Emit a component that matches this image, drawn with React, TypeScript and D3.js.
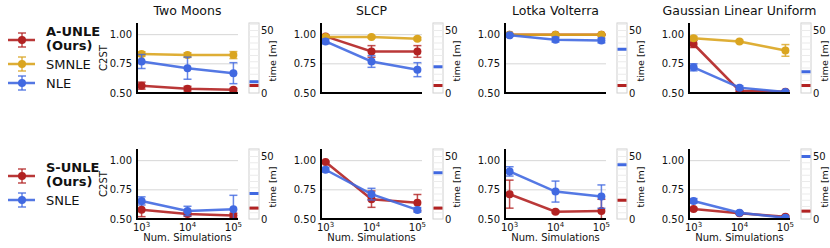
import { useEffect, useRef } from "react"
import * as d3 from "d3"

const WIDTH = 830
const HEIGHT = 248

const tasks = ["Two Moons", "SLCP", "Lotka Volterra", "Gaussian Linear Uniform"]
const numSims = [1e3, 1e4, 1e5]
const yTicks = [0.5, 0.75, 1.0]
const timeTicks = [0, 50]
const timeGrid = [5, 10, 15, 20, 25, 30, 35, 40, 45, 50, 55]

// amortized row: one list per task, values at 1e3, 1e4, 1e5 simulations
const aUnleC2st = [[0.563, 0.537, 0.528], [0.985, 0.856, 0.856], [1.0, 1.0, 1.0], [0.92, 0.52, 0.511]]
const aUnleErr = [[0.03, 0.02, 0.012], [0.01, 0.05, 0.05], [0.005, 0.005, 0.005], [0.03, 0.012, 0.01]]
const aUnleTime = [6, 6, 6, 6]
const smnleC2st = [[0.834, 0.825, 0.825], [0.98, 0.98, 0.965], [1.0, 1.0, 1.0], [0.97, 0.942, 0.865]]
const smnleErr = [[0.02, 0.02, 0.03], [0.01, 0.01, 0.012], [0.005, 0.005, 0.005], [0.015, 0.01, 0.05]]
const nleC2st = [[0.77, 0.713, 0.67], [0.942, 0.77, 0.7], [0.995, 0.957, 0.95], [0.72, 0.546, 0.508]]
const nleErr = [[0.06, 0.095, 0.09], [0.02, 0.05, 0.06], [0.01, 0.02, 0.02], [0.03, 0.015, 0.01]]
const nleTime = [9, 21, 35, 17]

// sequential row
const sUnleC2st = [[0.58, 0.543, 0.529], [0.989, 0.67, 0.64], [0.713, 0.563, 0.569], [0.586, 0.55, 0.52]]
const sUnleErr = [[0.06, 0.02, 0.02], [0.005, 0.07, 0.07], [0.12, 0.01, 0.1], [0.012, 0.01, 0.01]]
const sUnleTime = [8.7, 8.7, 15, 6.3]
const snleC2st = [[0.655, 0.569, 0.583], [0.922, 0.713, 0.578], [0.908, 0.735, 0.692], [0.655, 0.554, 0.511]]
const snleErr = [[0.035, 0.04, 0.12], [0.02, 0.05, 0.02], [0.04, 0.09, 0.1], [0.02, 0.01, 0.01]]
const snleTime = [20.4, 37, 43.4, 50]

const RED = "#b22222"
const GOLD = "#daa520"
const BLUE = "#4169e1"

interface Series {
  label: string[]
  bold?: boolean
  color: string
  c2st: number[][]
  err: number[][]
  time?: number[]
}

const rows: { top: number; legendY: number; series: Series[] }[] = [
  {
    top: 23,
    legendY: 40,
    series: [
      { label: ["A-UNLE", "(Ours)"], bold: true, color: RED, c2st: aUnleC2st, err: aUnleErr, time: aUnleTime },
      { label: ["SMNLE"], color: GOLD, c2st: smnleC2st, err: smnleErr },
      { label: ["NLE"], color: BLUE, c2st: nleC2st, err: nleErr, time: nleTime },
    ],
  },
  {
    top: 149,
    legendY: 176,
    series: [
      { label: ["S-UNLE", "(Ours)"], bold: true, color: RED, c2st: sUnleC2st, err: sUnleErr, time: sUnleTime },
      { label: ["SNLE"], color: BLUE, c2st: snleC2st, err: snleErr, time: snleTime },
    ],
  },
]

export default function App() {
  const svgRef = useRef<SVGSVGElement>(null)

  useEffect(() => {
    const svg = d3.select(svgRef.current)
    svg.selectAll("*").remove()

    const panelLeft = 137
    const panelStep = 184
    const w = 101
    const h = 70

    const x = d3.scaleLog().domain([10 ** 2.9, 10 ** 5.1]).range([0, w])
    const y = d3.scaleLinear().domain([0.5, 1.1]).range([h, 0])
    const yTime = d3.scaleLinear().domain([0, 56]).range([h, 0])

    const line = d3
      .line<[number, number]>()
      .x((d) => x(d[0]))
      .y((d) => y(d[1]))

    // titles
    tasks.forEach((t, i) => {
      svg
        .append("text")
        .attr("x", panelLeft + i * panelStep + w / 2)
        .attr("y", 15)
        .attr("text-anchor", "middle")
        .attr("font-size", "12.5px")
        .attr("fill", "#111")
        .text(t)
    })

    rows.forEach((row, ri) => {
      const isBottom = ri === rows.length - 1

      // legend
      let ly = row.legendY
      row.series.forEach((s) => {
        const lg = svg.append("g").attr("transform", `translate(0,${ly})`)
        lg.append("line").attr("x1", 8).attr("x2", 35).attr("stroke", s.color).attr("stroke-width", 2.5).attr("opacity", 0.9)
        lg.append("line").attr("x1", 22).attr("x2", 22).attr("y1", -7).attr("y2", 7).attr("stroke", s.color).attr("stroke-width", 1.5).attr("opacity", 0.8)
        ;[-7, 7].forEach((cy) =>
          lg.append("line").attr("x1", 18).attr("x2", 26).attr("y1", cy).attr("y2", cy).attr("stroke", s.color).attr("stroke-width", 1.5).attr("opacity", 0.8)
        )
        lg.append("circle").attr("cx", 22).attr("r", 4).attr("fill", s.color)
        const offsets = s.label.length > 1 ? [-4.5, 9.5] : [5]
        s.label.forEach((l, k) =>
          lg
            .append("text")
            .attr("x", 46)
            .attr("y", offsets[k])
            .attr("font-size", "13px")
            .attr("font-weight", s.bold ? "bold" : "normal")
            .attr("fill", "#111")
            .text(l)
        )
        ly += s.label.length > 1 ? 24 : 19
      })

      tasks.forEach((_, ti) => {
        const left = panelLeft + ti * panelStep
        const g = svg.append("g").attr("transform", `translate(${left},${row.top})`)
        const clipId = `clip-${ri}-${ti}`
        g.append("clipPath").attr("id", clipId).append("rect").attr("width", w).attr("height", h)

        // grid
        g.selectAll(".grid")
          .data(yTicks.slice(1))
          .enter()
          .append("line")
          .attr("x1", 0)
          .attr("x2", w)
          .attr("y1", (d) => y(d))
          .attr("y2", (d) => y(d))
          .attr("stroke", "#d6d6d6")
          .attr("stroke-width", 1)

        // y tick labels
        g.selectAll(".ytick")
          .data(yTicks)
          .enter()
          .append("text")
          .attr("x", -5)
          .attr("y", (d) => y(d))
          .attr("dy", "0.35em")
          .attr("text-anchor", "end")
          .attr("font-size", "10px")
          .attr("fill", "#111")
          .text((d) => d.toFixed(2))

        if (ti === 0) {
          g.append("text")
            .attr("transform", `translate(-30,${h / 2}) rotate(-90)`)
            .attr("text-anchor", "middle")
            .attr("font-size", "10px")
            .attr("fill", "#111")
            .text("C2ST")
        }

        // series
        const plot = g.append("g").attr("clip-path", `url(#${clipId})`)
        row.series.forEach((s) => {
          const pts: [number, number][] = numSims.map((n, k) => [n, s.c2st[ti][k]])
          plot
            .append("path")
            .attr("d", line(pts))
            .attr("fill", "none")
            .attr("stroke", s.color)
            .attr("stroke-width", 2.5)
            .attr("opacity", 0.9)
          numSims.forEach((n, k) => {
            const v = s.c2st[ti][k]
            const e = s.err[ti][k]
            const cx = x(n)
            plot.append("line").attr("x1", cx).attr("x2", cx).attr("y1", y(v - e)).attr("y2", y(v + e)).attr("stroke", s.color).attr("stroke-width", 1.5).attr("opacity", 0.8)
            ;[v - e, v + e].forEach((c) =>
              plot.append("line").attr("x1", cx - 4).attr("x2", cx + 4).attr("y1", y(c)).attr("y2", y(c)).attr("stroke", s.color).attr("stroke-width", 1.5).attr("opacity", 0.8)
            )
            plot.append("circle").attr("cx", cx).attr("cy", y(v)).attr("r", 4).attr("fill", s.color)
          })
        })

        // spines
        g.append("line").attr("x1", 0).attr("x2", 0).attr("y1", 0).attr("y2", h).attr("stroke", "#000").attr("stroke-width", 2)
        g.append("line").attr("x1", -1).attr("x2", w).attr("y1", h).attr("y2", h).attr("stroke", "#000").attr("stroke-width", 2)

        if (isBottom) {
          numSims.forEach((n) => {
            const t = g
              .append("text")
              .attr("x", x(n))
              .attr("y", h + 12)
              .attr("text-anchor", "middle")
              .attr("font-size", "10px")
              .attr("fill", "#111")
            t.append("tspan").text("10")
            t.append("tspan").attr("font-size", "7px").attr("dy", "-4").text(String(Math.round(Math.log10(n))))
          })
          g.append("text")
            .attr("x", w / 2)
            .attr("y", h + 22)
            .attr("text-anchor", "middle")
            .attr("font-size", "10px")
            .attr("fill", "#111")
            .text("Num. Simulations")
        }

        // time strip
        const tg = g.append("g").attr("transform", `translate(${w + 11},0)`)
        tg.append("rect").attr("width", 10).attr("height", h).attr("fill", "#fff").attr("stroke", "#d0d0d0").attr("stroke-width", 1)
        tg.selectAll(".tgrid")
          .data(timeGrid)
          .enter()
          .append("line")
          .attr("x1", 0)
          .attr("x2", 10)
          .attr("y1", (d) => yTime(d))
          .attr("y2", (d) => yTime(d))
          .attr("stroke", "#ebebeb")
          .attr("stroke-width", 1)
        row.series.forEach((s) => {
          if (!s.time) return
          tg.append("line")
            .attr("x1", 0.5)
            .attr("x2", 9.5)
            .attr("y1", yTime(s.time[ti]))
            .attr("y2", yTime(s.time[ti]))
            .attr("stroke", s.color)
            .attr("stroke-width", 3)
        })
        tg.selectAll(".ttick")
          .data(timeTicks)
          .enter()
          .append("text")
          .attr("x", 12)
          .attr("y", (d) => yTime(d))
          .attr("dy", "0.35em")
          .attr("font-size", "10px")
          .attr("fill", "#111")
          .text((d) => d)
        tg.append("text")
          .attr("transform", `translate(27,${h / 2 + 3}) rotate(-90)`)
          .attr("text-anchor", "middle")
          .attr("font-size", "9.5px")
          .attr("fill", "#111")
          .text("time [m]")
      })
    })
  }, [])

  return (
    <svg
      ref={svgRef}
      width={WIDTH}
      height={HEIGHT}
      style={{ position: "absolute", left: 0, top: 0, fontFamily: "DejaVu Sans, sans-serif", background: "#fff" }}
    />
  )
}
